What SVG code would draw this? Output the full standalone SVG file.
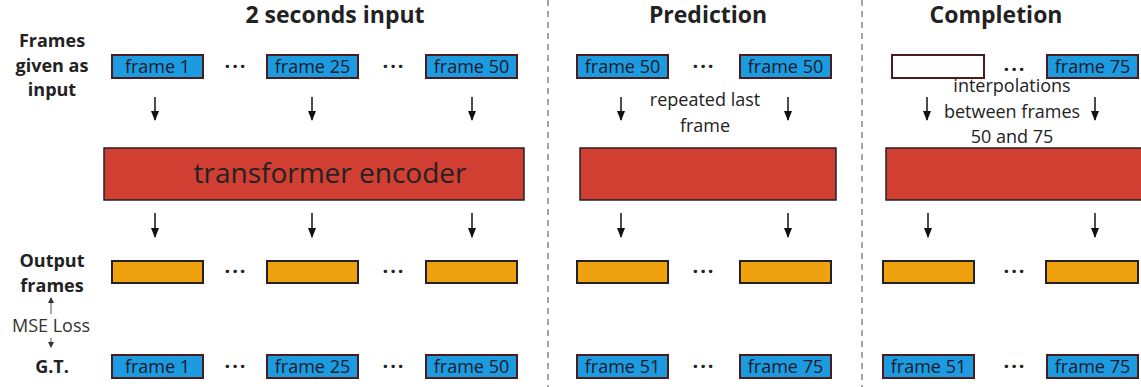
<svg xmlns="http://www.w3.org/2000/svg" width="1141" height="387" viewBox="0 0 1141 387">
<defs>
<marker id="ah2" markerWidth="10" markerHeight="10" refX="9" refY="5" orient="auto" markerUnits="userSpaceOnUse"><path d="M0,1 L10,5 L0,9 Z" fill="#111"/></marker>
<marker id="ah3" markerWidth="6" markerHeight="6" refX="5" refY="3" orient="auto" markerUnits="userSpaceOnUse"><path d="M0,0 L6,3 L0,6 Z" fill="#333"/></marker>
</defs>
<style>
text{font-family:"Open Sans","Noto Sans","Liberation Sans",sans-serif;fill:#222}
.t{font-size:23px;font-weight:bold;text-anchor:middle}
.l{font-size:18px;font-weight:bold;text-anchor:middle}
.f{font-size:18px;text-anchor:middle;fill:#1a1a2a}
.n{font-size:18px;text-anchor:middle}
.d{font-size:20px;font-weight:bold;text-anchor:middle;letter-spacing:2px}
.b{fill:#1d9be0;stroke:#4a1c1c;stroke-width:2}
.w{fill:#fff;stroke:#4a1c1c;stroke-width:2}
.o{fill:#efa20e;stroke:#222;stroke-width:2}
.r{fill:#d13f33;stroke:#222;stroke-width:1.5}
.a{stroke:#111;stroke-width:1.5;fill:none;marker-end:url(#ah2)}
.sep{stroke:#888;stroke-width:1.5;stroke-dasharray:6,5}
</style>
<g id="titles">
<text class="t" x="335" y="23">2 seconds input</text>
<text class="t" x="708" y="23">Prediction</text>
<text class="t" x="996" y="23">Completion</text>
</g>
<g id="left-labels">
<text class="l" x="52" y="47">Frames</text>
<text class="l" x="52" y="72">given as</text>
<text class="l" x="52" y="96">input</text>
<text class="l" x="52" y="267">Output</text>
<text class="l" x="52" y="292">frames</text>
<text x="51" y="332" style="font-size:18px;text-anchor:middle;fill:#333">MSE Loss</text>
<text class="l" x="52" y="373">G.T.</text>
</g>
<g id="separators">
<line class="sep" x1="548" y1="0" x2="548" y2="387"/>
<line class="sep" x1="862" y1="0" x2="862" y2="387"/>
</g>
<g id="input-frames">
<rect class="b" x="112" y="55" width="91" height="23"/><text class="f" x="157.5" y="73">frame 1</text>
<rect class="b" x="267" y="55" width="91" height="23"/><text class="f" x="312.5" y="73">frame 25</text>
<rect class="b" x="426" y="55" width="91" height="23"/><text class="f" x="471.5" y="73">frame 50</text>
<rect class="b" x="577" y="55" width="91" height="23"/><text class="f" x="622.5" y="73">frame 50</text>
<rect class="b" x="740" y="55" width="91" height="23"/><text class="f" x="785.5" y="73">frame 50</text>
<rect class="w" x="892" y="55" width="92" height="23"/>
<rect class="b" x="1047" y="55" width="91" height="23"/><text class="f" x="1092.5" y="73">frame 75</text>
</g>
<g id="encoders">
<rect class="r" x="104" y="148" width="420" height="52"/><text x="330" y="183" style="font-size:28px;text-anchor:middle;fill:#222">transformer encoder</text>
<rect class="r" x="580" y="148" width="256" height="52"/>
<rect class="r" x="886" y="148" width="260" height="52"/>
</g>
<g id="output-frames">
<rect class="o" x="112" y="261" width="91" height="22"/>
<rect class="o" x="267" y="261" width="91" height="22"/>
<rect class="o" x="426" y="261" width="91" height="22"/>
<rect class="o" x="577" y="261" width="91" height="22"/>
<rect class="o" x="740" y="261" width="91" height="22"/>
<rect class="o" x="883" y="261" width="91" height="22"/>
<rect class="o" x="1046" y="261" width="92" height="22"/>
</g>
<g id="gt-frames">
<rect class="b" x="112" y="355" width="91" height="23"/><text class="f" x="157.5" y="373">frame 1</text>
<rect class="b" x="267" y="355" width="91" height="23"/><text class="f" x="312.5" y="373">frame 25</text>
<rect class="b" x="426" y="355" width="91" height="23"/><text class="f" x="471.5" y="373">frame 50</text>
<rect class="b" x="577" y="355" width="91" height="23"/><text class="f" x="622.5" y="373">frame 51</text>
<rect class="b" x="740" y="355" width="91" height="23"/><text class="f" x="785.5" y="373">frame 75</text>
<rect class="b" x="883" y="355" width="91" height="23"/><text class="f" x="928.5" y="373">frame 51</text>
<rect class="b" x="1047" y="355" width="91" height="23"/><text class="f" x="1092.5" y="373">frame 75</text>
</g>
<g id="dots">
<text class="d" x="236" y="73">···</text><text class="d" x="394" y="73">···</text>
<text class="d" x="704" y="73">···</text><text class="d" x="1015" y="76">···</text>
<text class="d" x="236" y="278">···</text><text class="d" x="394" y="278">···</text>
<text class="d" x="704" y="278">···</text><text class="d" x="1015" y="278">···</text>
<text class="d" x="236" y="373">···</text><text class="d" x="394" y="373">···</text>
<text class="d" x="704" y="373">···</text><text class="d" x="1015" y="373">···</text>
</g>
<g id="annotations">
<text class="n" x="705" y="106">repeated last</text>
<text class="n" x="705" y="132">frame</text>
<text class="n" x="1012" y="92">interpolations</text>
<text class="n" x="1012" y="118">between frames</text>
<text class="n" x="1012" y="143">50 and 75</text>
</g>
<g id="connectors">
<path class="a" d="M155,97 V120"/><path class="a" d="M312,97 V120"/><path class="a" d="M472,97 V120"/>
<path class="a" d="M621,97 V120"/><path class="a" d="M788,97 V120"/>
<path class="a" d="M927,97 V120"/><path class="a" d="M1095,97 V120"/>
<path class="a" d="M155,213 V237"/><path class="a" d="M312,213 V237"/><path class="a" d="M472,213 V237"/>
<path class="a" d="M621,213 V237"/><path class="a" d="M788,213 V237"/>
<path class="a" d="M928,213 V237"/><path class="a" d="M1095,213 V237"/>
<path d="M51,314 V298" stroke="#555" stroke-width="1" marker-end="url(#ah3)"/>
<path d="M51,338 V347" stroke="#555" stroke-width="1" marker-end="url(#ah3)"/>
</g>
</svg>
